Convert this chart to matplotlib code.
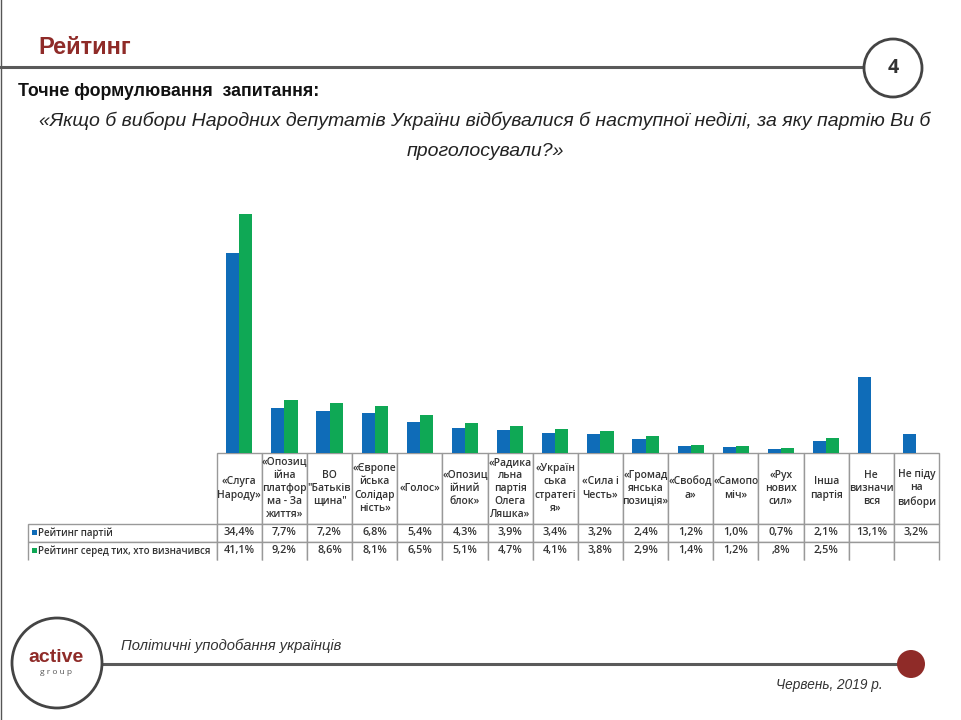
import matplotlib
matplotlib.use('Agg')
import matplotlib.pyplot as plt
from matplotlib.patches import Circle, Rectangle
import numpy as np

# values
parties = ['«Слуга\nНароду»', '«Опозиц\nійна\nплатфор\nма - За\nжиття»', 'ВО\n"Батьків\nщина"',
           '«Європе\nйська\nСолідар\nність»', '«Голос»', '«Опозиц\nійний\nблок»',
           '«Радика\nльна\nпартія\nОлега\nЛяшка»', '«Україн\nська\nстратегі\nя»',
           '«Сила і\nЧесть»', '«Громад\nянська\nпозиція»', '«Свобод\nа»', '«Самопо\nміч»',
           '«Рух\nнових\nсил»', 'Інша\nпартія', 'Не\nвизначи\nвся', 'Не піду\nна\nвибори']
rating_all = [34.4, 7.7, 7.2, 6.8, 5.4, 4.3, 3.9, 3.4, 3.2, 2.4, 1.2, 1.0, 0.7, 2.1, 13.1, 3.2]
rating_decided = [41.1, 9.2, 8.6, 8.1, 6.5, 5.1, 4.7, 4.1, 3.8, 2.9, 1.4, 1.2, 0.8, 2.5, None, None]
labels_all = ['34,4%', '7,7%', '7,2%', '6,8%', '5,4%', '4,3%', '3,9%', '3,4%', '3,2%', '2,4%',
              '1,2%', '1,0%', '0,7%', '2,1%', '13,1%', '3,2%']
labels_decided = ['41,1%', '9,2%', '8,6%', '8,1%', '6,5%', '5,1%', '4,7%', '4,1%', '3,8%', '2,9%',
                  '1,4%', '1,2%', ',8%', '2,5%', '', '']
row_names = ['Рейтинг партій', 'Рейтинг серед тих, хто визначився']

BLUE = '#0f6cb8'
GREEN = '#0fa855'
DARK = '#5a5a5a'
RED = '#8f2b28'
SANS = ['Liberation Sans', 'DejaVu Sans']
W, H = 962, 720

plt.rcParams['font.family'] = ['Open Sans', 'DejaVu Sans']

fig = plt.figure(figsize=(W / 100, H / 100), dpi=100)

# page overlay in pixel coordinates
page = fig.add_axes([0, 0, 1, 1])
page.set_xlim(0, W)
page.set_ylim(H, 0)
page.axis('off')

page.plot([0.5, 0.5], [0, H], color='#555555', lw=1.0)
page.plot([0, 866], [67, 67], color=DARK, lw=2.2)
page.add_patch(Circle((893, 68), 29, fc='white', ec='#444444', lw=2.0, zorder=3))
page.text(893, 68, '4', ha='center', va='center', fontsize=14, fontweight='bold',
          color='#333333', zorder=4)
page.text(38, 47, 'Рейтинг', ha='left', va='center', fontsize=17, fontweight='bold',
          color=RED, family=SANS)
page.text(18, 91, 'Точне формулювання  запитання:', ha='left', va='center', fontsize=12.8,
          fontweight='bold', color='#111111', family=SANS)
page.text(485, 121, '«Якщо б вибори Народних депутатів України відбувалися б наступної неділі, '
          'за яку партію Ви б', ha='center', va='center', fontsize=14, style='italic',
          color='#222222', family=SANS)
page.text(485, 151, 'проголосували?»', ha='center', va='center', fontsize=14, style='italic',
          color='#222222', family=SANS)

# footer
page.plot([92, 900], [664, 664], color=DARK, lw=2.2)
page.add_patch(Circle((57, 663), 45, fc='white', ec='#444444', lw=2.0, zorder=3))
page.add_patch(Circle((911, 664), 14, fc=RED, ec='none', zorder=3))
page.text(56, 657, 'active', ha='center', va='center', fontsize=14, fontweight='bold',
          color=RED, family=SANS, zorder=4)
page.text(56, 672, 'g r o u p', ha='center', va='center', fontsize=6, color='#555555', zorder=4)
page.text(121, 646, 'Політичні уподобання українців', ha='left', va='center', fontsize=10.6,
          style='italic', color='#333333', family=SANS)
page.text(883, 685, 'Червень, 2019 р.', ha='right', va='center', fontsize=9.8, style='italic',
          color='#333333', family=SANS)

# bars, one category per table column
left, right, base, top = 216.7, 939, 453, 200
ax = fig.add_axes([left / W, 1 - base / H, (right - left) / W, (base - top) / H])
x = np.arange(len(parties))
width = 0.29
ax.bar(x - width / 2, rating_all, width, color=BLUE)
ax.bar(x + width / 2, [np.nan if v is None else v for v in rating_decided], width, color=GREEN)
ax.set_xlim(-0.5, len(parties) - 0.5)
ax.set_ylim(0, (base - top) / 5.81)
ax.axis('off')

# data table under the bars
cells = [[''] + parties, [row_names[0]] + labels_all, [row_names[1]] + labels_decided]
t_left, t_right, t_top, t_bottom = 28, 939, 453, 560
col_w = [left - t_left] + [(right - left) / len(parties)] * len(parties)
tbl = page.table(cellText=cells, cellLoc='center', colWidths=[c / (t_right - t_left) for c in col_w],
                 bbox=[t_left / W, 1 - t_bottom / H, (t_right - t_left) / W, (t_bottom - t_top) / H])
tbl.auto_set_font_size(False)
row_h = [71, 18, 18]
for (r, c), cell in tbl.get_celld().items():
    cell.set_height(row_h[r] / (t_bottom - t_top))
    cell.set_edgecolor('#999999')
    cell.set_linewidth(1.0)
    cell.PAD = 0.02
    txt = cell.get_text()
    txt.set_fontsize(7.4 if r == 0 else 7.8)
    txt.set_color('#333333')
    txt.set_fontweight('semibold')
    txt.set_linespacing(1.27)
    if c == 0 and r > 0:
        txt.set_ha('left')
        cell.PAD = 0.055
        txt.set_fontsize(7.0)
    if r == 0 and c == 0:
        cell.visible_edges = ''
    elif r == 2:
        cell.visible_edges = 'LRT'

# legend keys in the row headers
page.add_patch(Rectangle((32, 530), 5, 5, fc=BLUE, ec='none', zorder=5))
page.add_patch(Rectangle((32, 548), 5, 5, fc=GREEN, ec='none', zorder=5))

fig.savefig('out.png', dpi=100)
plt.close(fig)
